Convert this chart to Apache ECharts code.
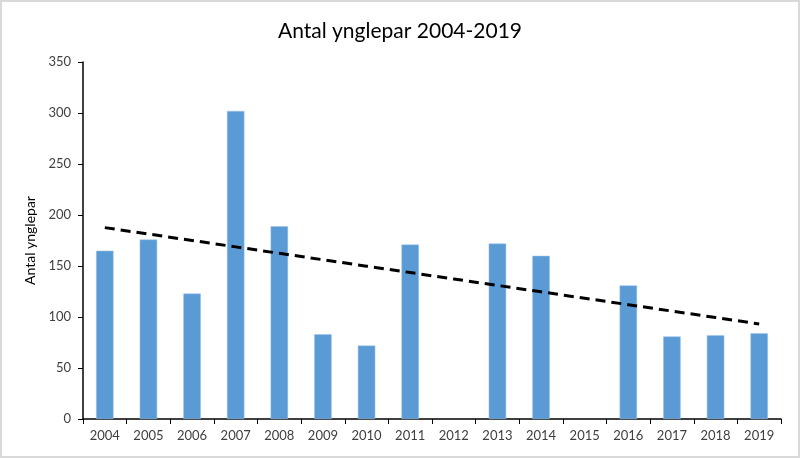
<!DOCTYPE html>
<html>
<head>
<meta charset="utf-8">
<script src="https://cdn.jsdelivr.net/npm/echarts@6/dist/echarts.min.js"></script>
<style>
html,body{margin:0;padding:0;background:#fff;}
#wrap{position:absolute;left:0;top:0;width:796px;height:454px;border:2px solid #d9d9d9;background:#fff;}
#chart{width:796px;height:454px;}
</style>
</head>
<body>
<div id="wrap"><div id="chart"></div></div>
<script>
const years = ['2004','2005','2006','2007','2008','2009','2010','2011','2012','2013','2014','2015','2016','2017','2018','2019'];
const pairs = [165, 176, 123, 302, 189, 83, 72, 171, null, 172, 160, null, 131, 81, 82, 84];
const yTicks = [0, 50, 100, 150, 200, 250, 300, 350];

// linear trend (least squares over non-missing points, x = category index)
const pts = pairs.map((v, i) => [i, v]).filter(p => p[1] != null);
const n = pts.length;
const mx = pts.reduce((s, p) => s + p[0], 0) / n;
const my = pts.reduce((s, p) => s + p[1], 0) / n;
let sxy = 0, sxx = 0;
pts.forEach(p => { sxy += (p[0] - mx) * (p[1] - my); sxx += (p[0] - mx) * (p[0] - mx); });
const slope = sxy / sxx, icpt = my - slope * mx;
const trend = years.map((_, i) => +(icpt + slope * i).toFixed(2));

const chart = echarts.init(document.getElementById('chart'));
const font = 'Lato, "Open Sans", sans-serif';
chart.setOption({
  animation: false,
  title: {
    text: 'Antal ynglepar 2004-2019',
    left: 'center', top: 14,
    textStyle: { fontFamily: font, fontSize: 21, fontWeight: 'normal', color: '#000' }
  },
  grid: { left: 81, right: 17, top: 60, bottom: 37 },
  xAxis: {
    type: 'category',
    data: years,
    axisLine: { lineStyle: { color: '#000', width: 1.5 } },
    axisTick: { show: true, length: 5, alignWithLabel: false, lineStyle: { color: '#000' } },
    axisLabel: { fontFamily: font, fontSize: 13, color: '#404040', margin: 10, interval: 0 }
  },
  yAxis: {
    type: 'value',
    min: yTicks[0], max: yTicks[yTicks.length - 1], interval: 50,
    name: 'Antal ynglepar',
    nameLocation: 'middle', nameRotate: 90, nameGap: 46,
    nameTextStyle: { fontFamily: font, fontSize: 14, color: '#000' },
    axisLine: { show: true, lineStyle: { color: '#000', width: 1.5 } },
    axisTick: { show: true, length: 5, lineStyle: { color: '#000' } },
    axisLabel: { fontFamily: font, fontSize: 13, color: '#404040', margin: 12 },
    splitLine: { show: false }
  },
  series: [
    {
      type: 'bar',
      data: pairs,
      barWidth: '40%',
      itemStyle: { color: '#5B9BD5', borderColor: '#9DC3E6', borderWidth: 0.5 }
    },
    {
      type: 'line',
      data: trend,
      symbol: 'none',
      lineStyle: { color: '#000', width: 3, type: [10, 6] },
      z: 5
    }
  ]
});
</script>
</body>
</html>
